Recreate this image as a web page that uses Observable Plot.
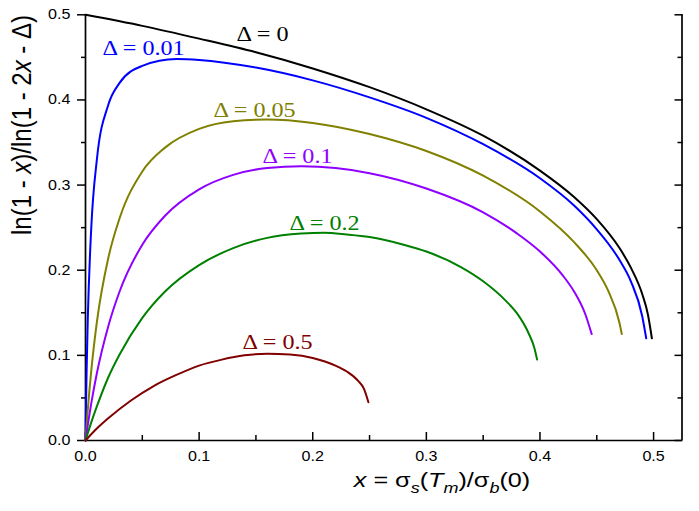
<!DOCTYPE html>
<html>
<head>
<meta charset="utf-8">
<script src="https://cdn.jsdelivr.net/npm/d3@7"></script>
<script src="https://cdn.jsdelivr.net/npm/@observablehq/plot@0.6"></script>
<style>
  html, body { margin: 0; padding: 0; background: #fff; }
  #chart svg { display: block; }
</style>
</head>
<body>
<div id="chart"></div>
<script>
// ---- data ----
const deltaNames = ["0", "0.01", "0.05", "0.1", "0.2", "0.5"];
const seriesColors = ["#000000", "#0000ff", "#808000", "#8f00ff", "#008000", "#800000"];

const x_d0    = [0, 0.05, 0.1, 0.15, 0.2, 0.25, 0.3, 0.35, 0.4, 0.43, 0.45, 0.47, 0.48, 0.49, 0.495, 0.4985];
const y_d0    = [0.5, 0.487, 0.472, 0.456, 0.437, 0.415, 0.389, 0.358, 0.317, 0.286, 0.260, 0.226, 0.203, 0.172, 0.148, 0.12];

const x_d001  = [0, 0.0005, 0.001, 0.002, 0.005, 0.01, 0.02, 0.03, 0.05, 0.08, 0.1, 0.15, 0.2, 0.25, 0.3, 0.35, 0.4, 0.43, 0.45, 0.47, 0.48, 0.49, 0.4935];
const y_d001  = [0, 0.045, 0.083, 0.142, 0.248, 0.330, 0.394, 0.420, 0.440, 0.448, 0.447, 0.438, 0.423, 0.403, 0.379, 0.348, 0.308, 0.276, 0.248, 0.212, 0.187, 0.146, 0.12];

const x_d005  = [0, 0.002, 0.005, 0.01, 0.02, 0.03, 0.05, 0.07, 0.1, 0.13, 0.16, 0.2, 0.25, 0.3, 0.35, 0.4, 0.43, 0.45, 0.46, 0.47, 0.472];
const y_d005  = [0, 0.036, 0.081, 0.139, 0.214, 0.261, 0.316, 0.344, 0.366, 0.375, 0.377, 0.373, 0.360, 0.340, 0.311, 0.269, 0.233, 0.200, 0.176, 0.138, 0.125];

const x_d01   = [0, 0.005, 0.01, 0.02, 0.03, 0.05, 0.07, 0.1, 0.13, 0.16, 0.19, 0.22, 0.25, 0.3, 0.35, 0.38, 0.4, 0.42, 0.43, 0.44, 0.4455];
const y_d01   = [0, 0.043, 0.079, 0.134, 0.175, 0.230, 0.264, 0.295, 0.312, 0.320, 0.322, 0.320, 0.314, 0.296, 0.268, 0.243, 0.222, 0.194, 0.175, 0.148, 0.125];

const x_d02   = [0, 0.005, 0.01, 0.02, 0.03, 0.05, 0.07, 0.1, 0.13, 0.16, 0.19, 0.21, 0.23, 0.25, 0.28, 0.3, 0.33, 0.35, 0.37, 0.38, 0.39, 0.395, 0.3975];
const y_d02   = [0, 0.021, 0.040, 0.074, 0.101, 0.144, 0.175, 0.206, 0.226, 0.238, 0.243, 0.244, 0.242, 0.239, 0.230, 0.222, 0.204, 0.187, 0.164, 0.149, 0.126, 0.109, 0.095];

const x_d05   = [0, 0.01, 0.02, 0.04, 0.06, 0.08, 0.1, 0.12, 0.14, 0.16, 0.18, 0.2, 0.22, 0.23, 0.24, 0.245, 0.249];
const y_d05   = [0, 0.014, 0.026, 0.047, 0.064, 0.077, 0.088, 0.095, 0.100, 0.102, 0.101, 0.097, 0.088, 0.081, 0.070, 0.061, 0.045];

// curve labels (text and anchor point in data coordinates)
const labelText = ["Δ = 0", "Δ = 0.01", "Δ = 0.05", "Δ = 0.1", "Δ = 0.2", "Δ = 0.5"];
const labelX    = [0.133, 0.015, 0.1127, 0.1558, 0.1796, 0.1382];
const labelY    = [0.477, 0.461, 0.388, 0.3336, 0.2549, 0.1151];

// ticks
const xMajor = [0, 0.1, 0.2, 0.3, 0.4, 0.5];
const xMinor = [0.05, 0.15, 0.25, 0.35, 0.45];
const yMajor = [0, 0.1, 0.2, 0.3, 0.4, 0.5];
const yMinor = [0.05, 0.15, 0.25, 0.35, 0.45];
const xDomain = [0, 0.525];
const yDomain = [0, 0.5];

// ---- build tables ----
const xs = [x_d0, x_d001, x_d005, x_d01, x_d02, x_d05];
const ys = [y_d0, y_d001, y_d005, y_d01, y_d02, y_d05];
const rows = [];
xs.forEach((arr, i) => arr.forEach((xv, j) => rows.push({delta: deltaNames[i], x: xv, y: ys[i][j]})));
const labels = labelText.map((t, i) => ({text: t, x: labelX[i], y: labelY[i], delta: deltaNames[i]}));

const serif = "'Liberation Serif', 'Times New Roman', serif";
const sans = "'Liberation Sans', Arial, sans-serif";
const fmt = d3.format(".1f");

const plot = Plot.plot({
  width: 699,
  height: 511,
  marginLeft: 85,
  marginRight: 17.5,
  marginTop: 14.3,
  marginBottom: 71,
  x: {domain: xDomain, label: null},
  y: {domain: yDomain, label: null},
  color: {domain: deltaNames, range: seriesColors},
  style: {fontFamily: sans, fontSize: "14px", color: "#000", background: "#fff"},
  marks: [
    // left axis
    Plot.axisY({ticks: yMinor, tickSize: 4, text: null, label: null, strokeWidth: 1.5}),
    Plot.axisY({ticks: yMajor, tickSize: 8, tickPadding: 7, tickFormat: fmt, label: null, strokeWidth: 1.5, fill: "#000", fontSize: 14}),
    // right axis (inward ticks)
    Plot.axisY({anchor: "right", ticks: yMinor, tickSize: -5, text: null, label: null, strokeWidth: 1.5}),
    Plot.axisY({anchor: "right", ticks: yMajor, tickSize: -8, text: null, label: null, strokeWidth: 1.5}),
    // bottom axis (inward ticks)
    Plot.axisX({ticks: xMinor, tickSize: -5, text: null, label: null, strokeWidth: 1.5}),
    Plot.axisX({ticks: xMajor, tickSize: -8, text: null, label: null, strokeWidth: 1.5}),
    Plot.axisX({ticks: xMajor, tickSize: 0, tickPadding: 11, tickFormat: fmt, label: null, fill: "#000", fontSize: 14}),
    // frame lines
    Plot.ruleX([xDomain[0], xDomain[1]], {stroke: "#000", strokeWidth: 1.7}),
    Plot.ruleY([yDomain[0]], {stroke: "#000", strokeWidth: 1.7}),
    // curves
    Plot.line(rows, {x: "x", y: "y", z: "delta", stroke: "delta", strokeWidth: 2, curve: "monotone-x"}),
    // labels
    Plot.text(labels, {x: "x", y: "y", text: "text", fill: "delta", textAnchor: "start", lineAnchor: "middle", fontFamily: serif, fontSize: 21})
  ]
});

document.getElementById("chart").appendChild(plot);

// the reference's text is slightly wider than the fonts: stretch horizontally around each anchor
const svg = d3.select(plot);
svg.selectAll("text").each(function() {
  const el = this;
  const t = el.getAttribute("transform") || "";
  const xa = el.getAttribute("x");
  const x = (xa != null && /^-?[\d.]+$/.test(xa.trim())) ? +xa : 0;
  el.setAttribute("transform", `${t} translate(${x},0) scale(1.15,1) translate(${-x},0)`.trim());
});

// y-axis title
const yt = svg.append("text")
  .attr("transform", "translate(31,125) scale(1.15,1) rotate(-90)")
  .attr("text-anchor", "middle")
  .attr("font-family", sans)
  .attr("font-size", 24)
  .attr("fill", "#000")
  .style("white-space", "pre");
yt.append("tspan").text("ln(1 - ");
yt.append("tspan").attr("font-style", "italic").text("x");
yt.append("tspan").text(")/ln(1 - 2");
yt.append("tspan").attr("font-style", "italic").text("x");
yt.append("tspan").text(" - Δ)");

// x-axis title
const xt = svg.append("text")
  .attr("transform", "translate(442,487) scale(1.2,1)")
  .attr("text-anchor", "middle")
  .attr("font-family", sans)
  .attr("font-size", 21)
  .attr("fill", "#000")
  .style("white-space", "pre");
xt.append("tspan").attr("font-style", "italic").text("x");
xt.append("tspan").text(" = σ");
xt.append("tspan").attr("font-style", "italic").attr("font-size", 15).attr("dy", 6).text("s");
xt.append("tspan").attr("dy", -6).text("(");
xt.append("tspan").attr("font-style", "italic").text("T");
xt.append("tspan").attr("font-style", "italic").attr("font-size", 15).attr("dy", 6).text("m");
xt.append("tspan").attr("dy", -6).text(")/σ");
xt.append("tspan").attr("font-style", "italic").attr("font-size", 15).attr("dy", 6).text("b");
xt.append("tspan").attr("dy", -6).text("(0)");
</script>
</body>
</html>
